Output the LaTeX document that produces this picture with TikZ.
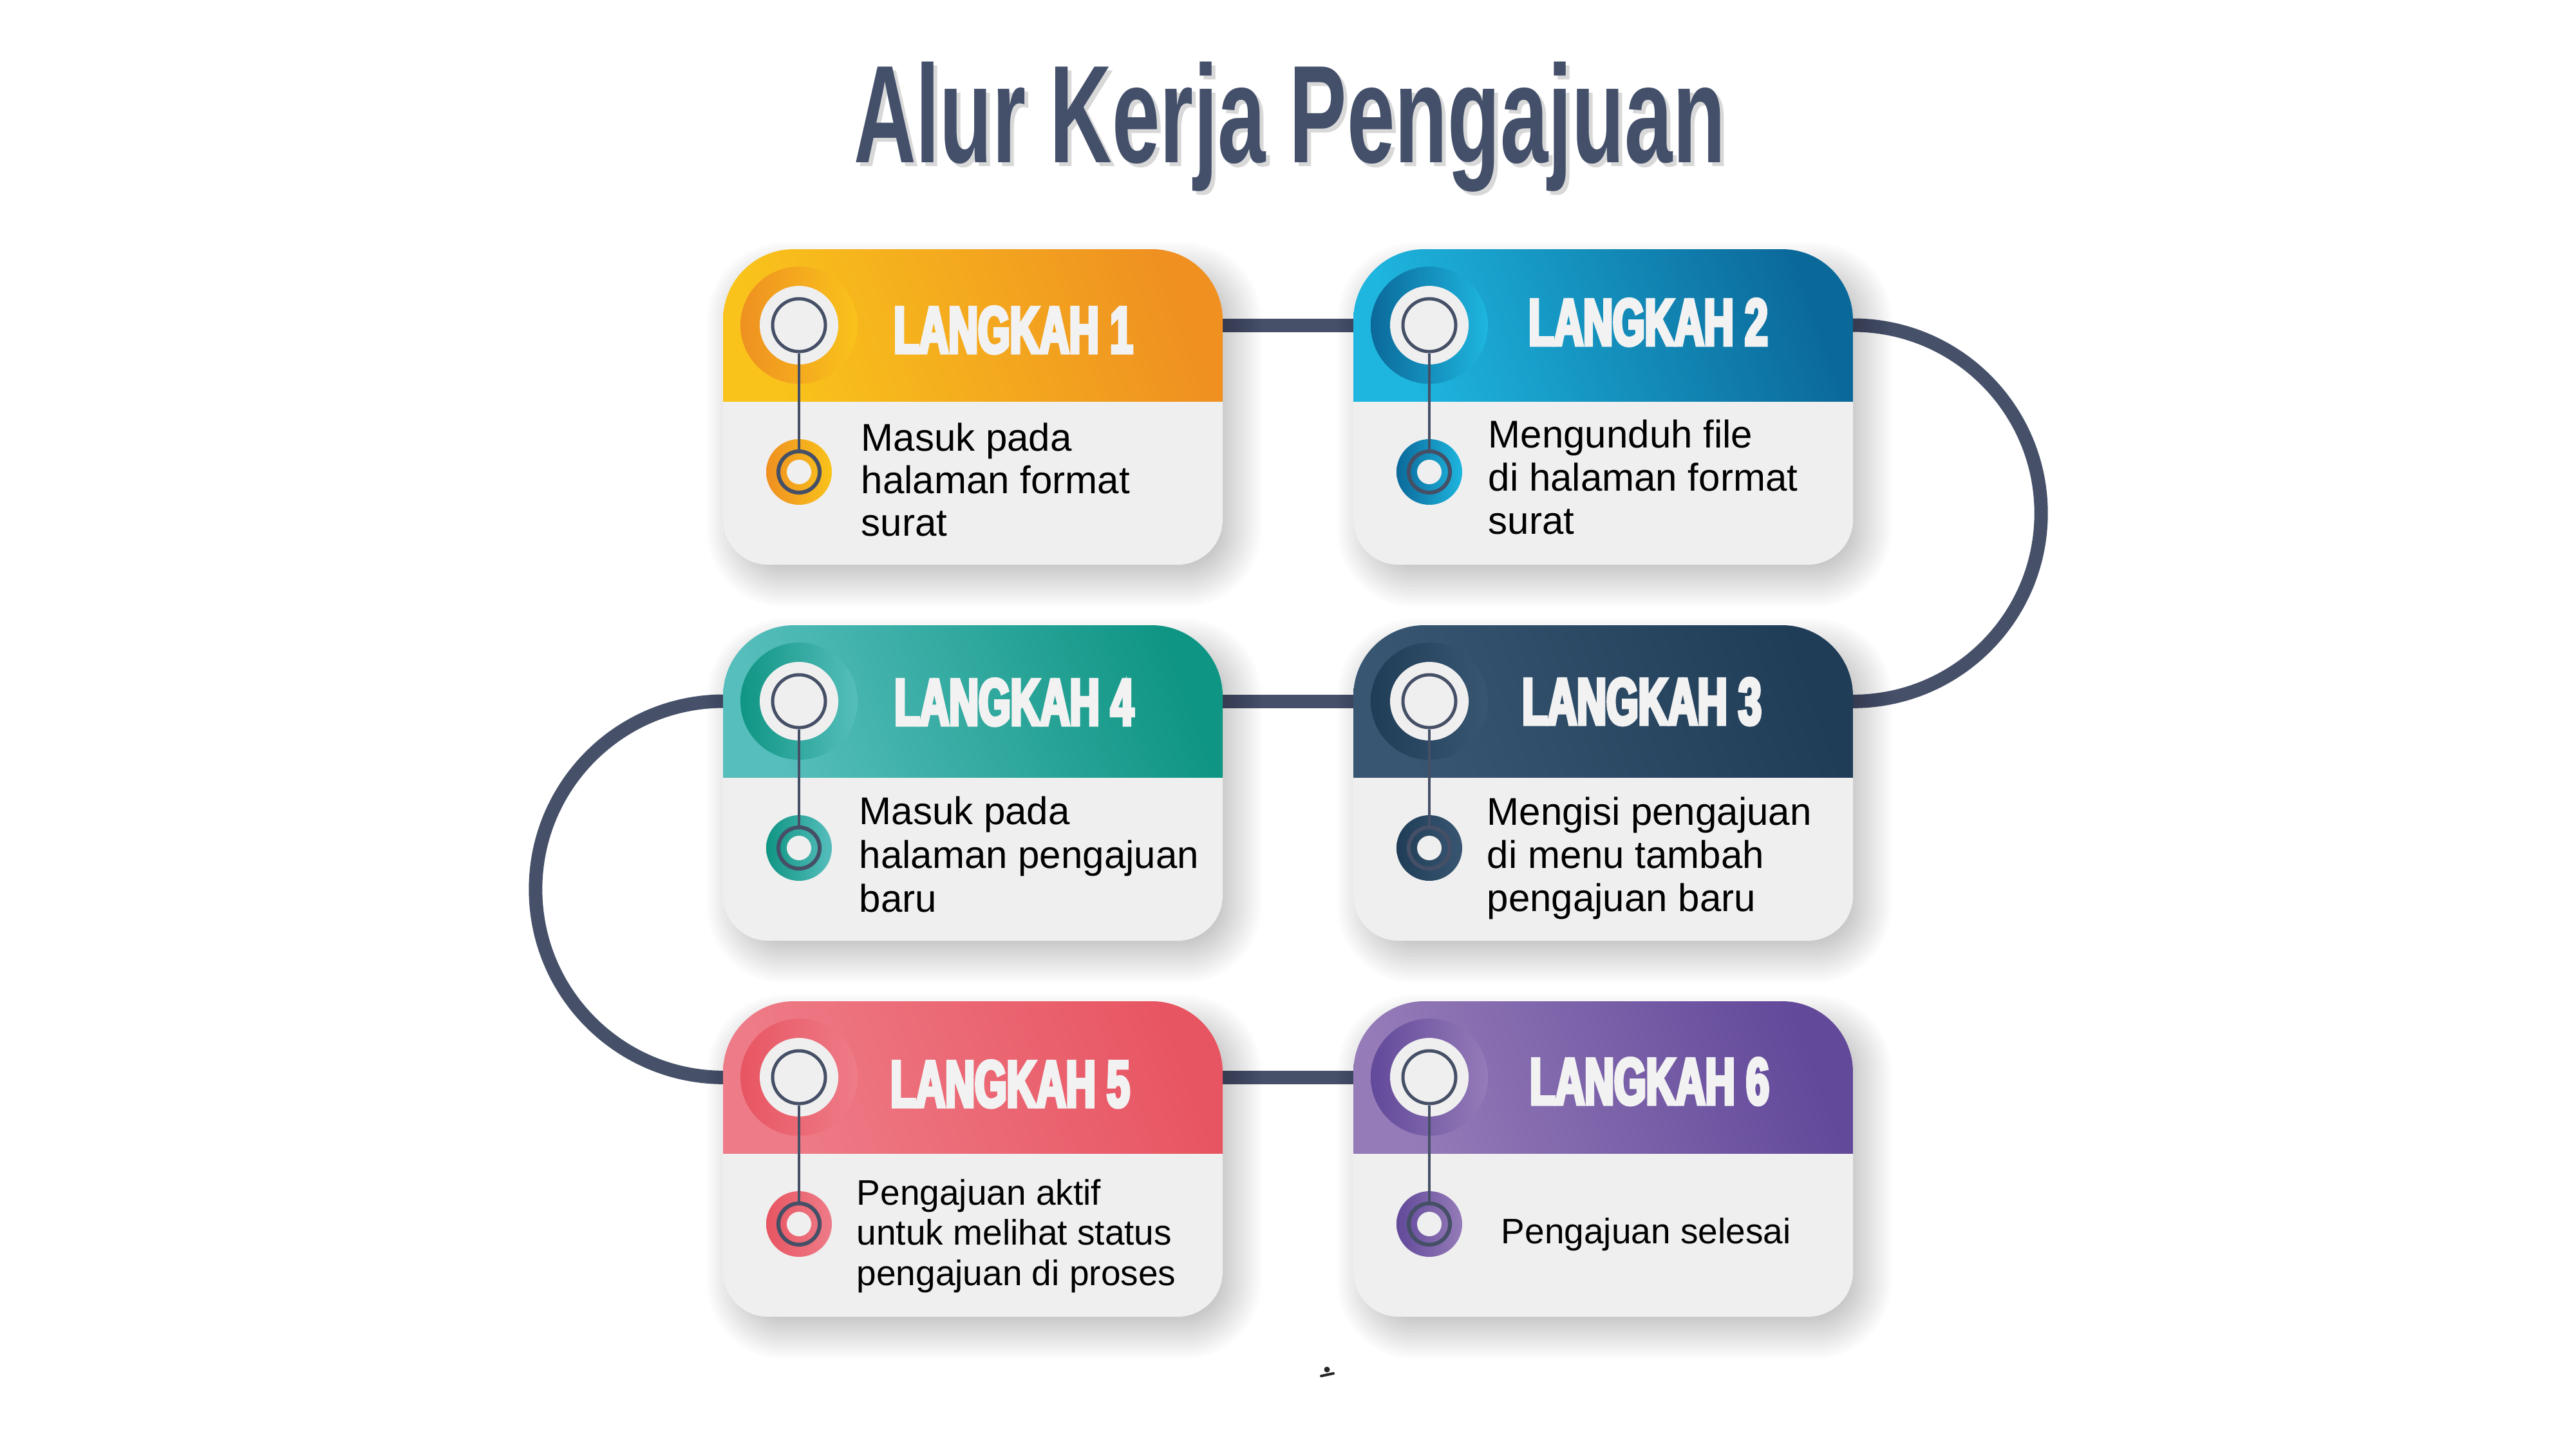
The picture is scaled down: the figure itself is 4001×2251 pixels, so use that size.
\documentclass[tikz,border=0pt]{standalone}
\usepackage{fontspec}
\setmainfont{Liberation Sans}
\newfontfamily\titlefont{Liberation Sans}[FakeStretch=0.62]
\newfontfamily\stepfont{Liberation Sans}[FakeStretch=0.62,BoldFeatures={FakeBold=5}]
\definecolor{slate}{HTML}{454F66}
\definecolor{connc}{HTML}{465169}
\definecolor{cardbg}{HTML}{EFEFEF}
\definecolor{titlec}{HTML}{44506A}
\definecolor{headtxt}{HTML}{F2F2F2}
\definecolor{aL}{HTML}{F9C31B}\definecolor{aD}{HTML}{EF9021}
\definecolor{bL}{HTML}{1EB6DF}\definecolor{bD}{HTML}{0B699A}
\definecolor{cL}{HTML}{385672}\definecolor{cD}{HTML}{203D57}
\definecolor{dL}{HTML}{56BEBC}\definecolor{dD}{HTML}{0F9583}
\definecolor{eL}{HTML}{EE7C88}\definecolor{eD}{HTML}{E85562}
\definecolor{fL}{HTML}{957BB8}\definecolor{fD}{HTML}{62499A}
\tikzset{
  conn/.style={draw=connc,line width=0.21cm},
  stem/.style={draw=slate,line width=0.045cm},
  ringnode/.style={circle,draw=slate,line width=0.05cm,minimum size=0.82cm,inner sep=0pt},
  dotnode/.style={circle,draw=slate,line width=0.06cm,minimum size=0.64cm,inner sep=0pt},
  headtext/.style={font=\stepfont\bfseries\fontsize{29.2}{30}\selectfont,text=headtxt,anchor=base,inner sep=0pt},
  bodytext/.style={font=\fontsize{17.07}{19}\selectfont,text=black,anchor=base west,inner sep=0pt},
  smalltext/.style={font=\fontsize{15.65}{17}\selectfont,text=black,anchor=base west,inner sep=0pt},
}
% #1 name, #2 x, #3 y, #4 light, #5 dark
\newcommand\stepcard[5]{%
  \foreach \i in {1,...,16}{%
    \pgfmathsetmacro\rr{0.4+0.05*\i}
    \fill[black,opacity=0.017,rounded corners=\rr cm]
      ({#2+55-\i*5},{#3+70-\i*5}) rectangle ({#2+756+\i*5},{#3+475+\i*5});}
  \begin{scope}
    \clip (#2,#3+200) [rounded corners=1.1cm] -- (#2,#3) -- (#2+776,#3) -- (#2+776,#3+200)
      [rounded corners=0.7cm] -- (#2+776,#3+490) -- (#2,#3+490) -- cycle;
    \fill[cardbg] (#2,#3) rectangle (#2+776,#3+490);
    \shade[left color=#4,right color=#5,shading angle=110] (#2,#3) rectangle (#2+776,#3+236);
  \end{scope}
  \shade[left color=#5,right color=#4] (#2+118,#3+118) circle[radius=91];
  \fill[cardbg] (#2+118,#3+118) circle[radius=61];
  \node[ringnode] (#1r) at (#2+118,#3+118) {};
  \shade[left color=#5,right color=#4] (#2+118,#3+346) circle[radius=51];
  \node[dotnode] (#1d) at (#2+118,#3+346) {};
  \fill[cardbg] (#2+118,#3+346) circle[radius=19];
  \draw[stem] (#1r) -- (#1d);
}
\begin{document}
\begin{tikzpicture}[x=0.01cm,y=-0.01cm]
\useasboundingbox (0,0) rectangle (4001,2251);
\fill[white] (0,0) rectangle (4001,2251);

% title
\node[font=\titlefont\bfseries\fontsize{61.4}{70}\selectfont,text=black!25,anchor=base,inner sep=0pt,opacity=0.6] (titleshadow) at (2009,258) {Alur Kerja Pengajuan};
\node[font=\titlefont\bfseries\fontsize{61.4}{70}\selectfont,text=titlec,anchor=base,inner sep=0pt] (title) at (2003,252) {Alur Kerja Pengajuan};

% connector end points
\coordinate (c1E) at (1899,505);
\coordinate (c2W) at (2102,505);
\coordinate (c2E) at (2878,505);
\coordinate (c3E) at (2878,1089);
\coordinate (c3W) at (2102,1089);
\coordinate (c4E) at (1899,1089);
\coordinate (c4W) at (1124,1089);
\coordinate (c5W) at (1124,1673);
\coordinate (c5E) at (1899,1673);
\coordinate (c6W) at (2102,1673);

\draw[conn] (c1E) -- (c2W);
\draw[conn] (c2E) arc[start angle=90,end angle=-90,radius=2.92cm];
\draw[conn] (c3W) -- (c4E);
\draw[conn] (c4W) arc[start angle=90,end angle=270,radius=2.92cm];
\draw[conn] (c5E) -- (c6W);

\stepcard{c1}{1123}{387}{aL}{aD}
\stepcard{c2}{2102}{387}{bL}{bD}
\stepcard{c3}{2102}{971}{cL}{cD}
\stepcard{c4}{1123}{971}{dL}{dD}
\stepcard{c5}{1123}{1555}{eL}{eD}
\stepcard{c6}{2102}{1555}{fL}{fD}

% header texts
\node[headtext] (c1h) at (1574,548) {LANGKAH 1};
\node[headtext] (c2h) at (2560,536) {LANGKAH 2};
\node[headtext] (c3h) at (2550,1125) {LANGKAH 3};
\node[headtext] (c4h) at (1575,1126) {LANGKAH 4};
\node[headtext] (c5h) at (1569,1719) {LANGKAH 5};
\node[headtext] (c6h) at (2562,1715) {LANGKAH 6};

% body texts
\node[bodytext] (c1t1) at (1337,700) {Masuk pada};
\node[bodytext] (c1t2) at (1337,766) {halaman format};
\node[bodytext] (c1t3) at (1337,832) {surat};

\node[bodytext] (c2t1) at (2311,695) {Mengunduh file};
\node[bodytext] (c2t2) at (2311,762) {di halaman format};
\node[bodytext] (c2t3) at (2311,829) {surat};

\node[bodytext] (c3t1) at (2309,1281) {Mengisi pengajuan};
\node[bodytext] (c3t2) at (2309,1348) {di menu tambah};
\node[bodytext] (c3t3) at (2309,1415) {pengajuan baru};

\node[bodytext] (c4t1) at (1334,1280) {Masuk pada};
\node[bodytext] (c4t2) at (1334,1348) {halaman pengajuan};
\node[bodytext] (c4t3) at (1334,1416) {baru};

\node[smalltext] (c5t1) at (1330,1871) {Pengajuan aktif};
\node[smalltext] (c5t2) at (1330,1933) {untuk melihat status};
\node[smalltext] (c5t3) at (1330,1996) {pengajuan di proses};

\node[smalltext] (c6t1) at (2331,1931) {Pengajuan selesai};

% small stray mark below
\fill[black!85] (2061,2127) circle[radius=4.5];
\draw[black!85,line width=0.04cm,line cap=round] (2052,2137) -- (2071,2133);
\end{tikzpicture}
\end{document}
